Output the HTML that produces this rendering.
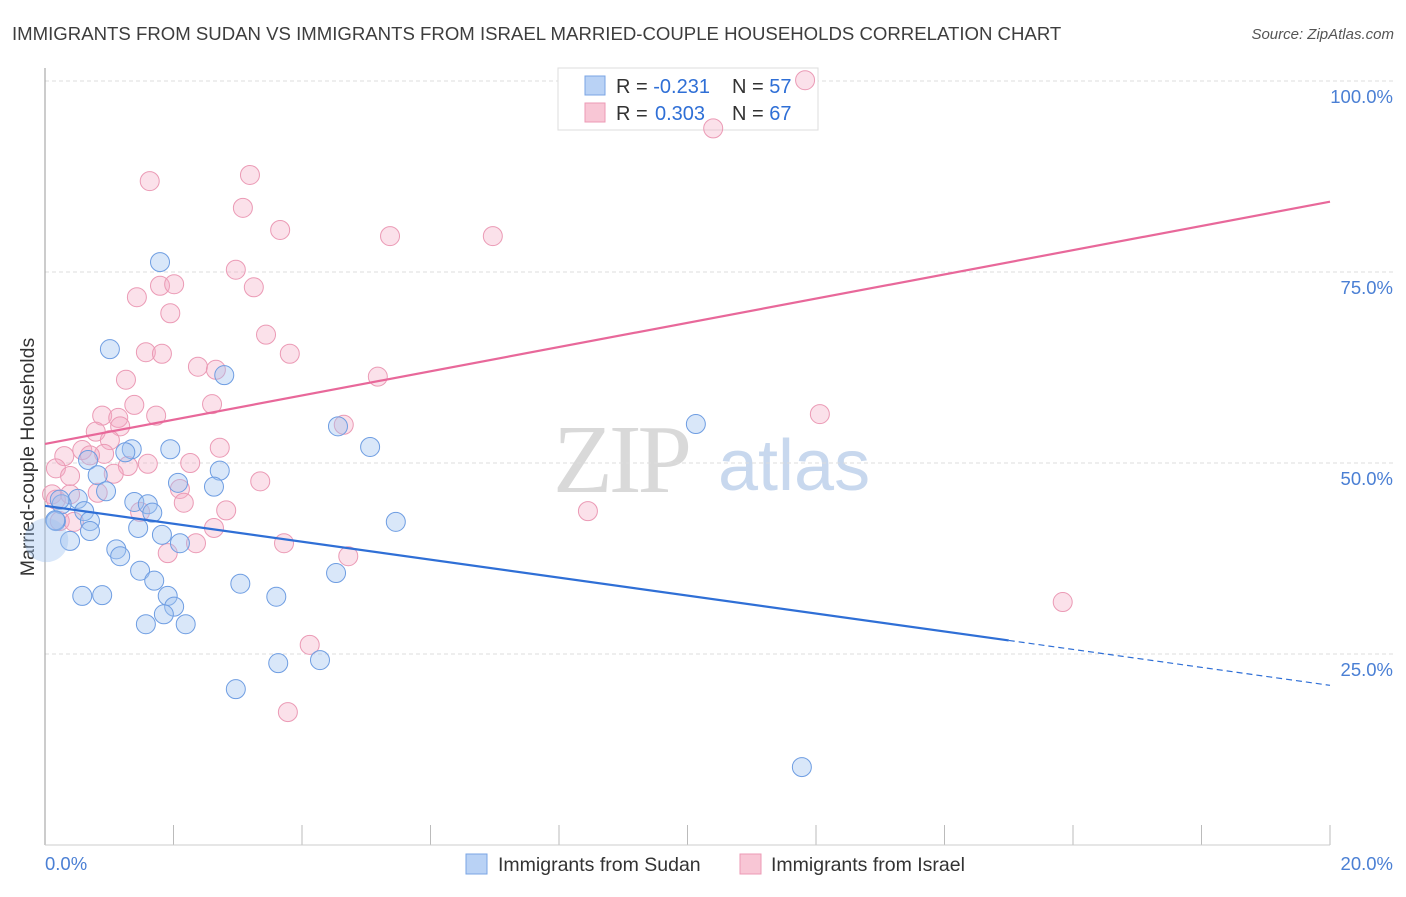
<!DOCTYPE html>
<html><head><meta charset="utf-8"><style>
body{margin:0;background:#fff;font-family:"Liberation Sans",sans-serif}
</style></head><body>
<svg width="1406" height="892" viewBox="0 0 1406 892">
<text x="12" y="40" font-size="18.6" fill="#3d3d3d">IMMIGRANTS FROM SUDAN VS IMMIGRANTS FROM ISRAEL MARRIED-COUPLE HOUSEHOLDS CORRELATION CHART</text>
<text x="1394" y="39" font-size="15" fill="#555" font-style="italic" text-anchor="end">Source: ZipAtlas.com</text>
<g>
<text x="553" y="492" font-size="98" fill="#d9d9d9" font-family="Liberation Serif,serif" letter-spacing="-4">ZIP</text>
<text x="718" y="490" font-size="72" fill="#c8d8ee">atlas</text>
</g>
<g id="grid"></g>
<line x1="45" y1="68" x2="45" y2="845" stroke="#999"/>
<line x1="45" y1="845" x2="1330" y2="845" stroke="#ccc"/>
<text transform="translate(34,457) rotate(-90)" font-size="19.5" fill="#333" text-anchor="middle">Married-couple Households</text>
<text x="45" y="870" font-size="18.5" fill="#4a7fd4">0.0%</text>
<text x="1393" y="870" font-size="18.5" fill="#4a7fd4" text-anchor="end">20.0%</text>
<g>
<rect x="558" y="68" width="260" height="62" fill="#fff" stroke="#ddd"/>
<rect x="585" y="76" width="20" height="19" fill="#b9d2f5" stroke="#7aa4e4"/>
<rect x="585" y="103" width="20" height="19" fill="#f8c6d5" stroke="#ec9ab5"/>
<text x="616" y="93" font-size="20" fill="#333">R = <tspan fill="#2f6fd6">-0.231</tspan><tspan x="732">N = </tspan><tspan fill="#2f6fd6">57</tspan></text>
<text x="616" y="120" font-size="20" fill="#333">R = <tspan fill="#2f6fd6" x="655">0.303</tspan><tspan x="732">N = </tspan><tspan fill="#2f6fd6">67</tspan></text>
</g>
<g id="pts"></g>
<g id="lines"></g>
<g>
<rect x="466" y="854" width="21" height="20" fill="#b9d2f5" stroke="#7aa4e4"/>
<text x="498" y="871" font-size="19.5" fill="#333">Immigrants from Sudan</text>
<rect x="740" y="854" width="21" height="20" fill="#f8c6d5" stroke="#ec9ab5"/>
<text x="771" y="871" font-size="19.5" fill="#333">Immigrants from Israel</text>
</g>
</svg>
<script>
const yTicks=[25,50,75,100];
const yTickLabels=["25.0%","50.0%","75.0%","100.0%"];
const xTicks=[2,4,6,8,10,12,14,16,18,20];
const sudanX=[1.79,1.01,2.79,10.13,4.56,5.06,1.95,1.35,1.25,0.67,0.82,2.72,2.07,2.63,0.95,0.51,1.39,1.60,0.26,0.61,1.67,0.70,0.17,5.46,1.45,1.82,0.70,0.39,2.10,1.11,1.17,1.48,4.53,1.70,3.04,0.58,0.89,1.91,3.60,2.01,1.85,1.57,2.19,3.63,4.28,2.97,11.78,0.16,0.23];
const sudanY=[76.3,64.9,61.5,55.1,54.8,52.1,51.8,51.8,51.4,50.4,48.4,49.0,47.4,46.9,46.3,45.3,44.9,44.6,44.6,43.7,43.5,42.4,42.4,42.3,41.5,40.6,41.1,39.8,39.5,38.7,37.8,35.9,35.6,34.6,34.2,32.6,32.7,32.6,32.5,31.2,30.2,28.9,28.9,23.8,24.2,20.4,10.2,42.5,45.2];
const israelX=[11.83,10.40,1.63,3.19,3.08,3.66,5.37,6.97,2.97,1.43,1.79,2.01,3.25,1.95,3.44,1.57,1.82,3.81,2.38,2.66,1.26,5.18,2.60,0.89,1.14,1.73,1.39,12.06,4.65,1.17,0.79,1.01,2.72,0.30,0.58,1.60,0.92,0.70,1.29,2.26,0.17,0.39,1.07,3.35,2.10,0.82,0.11,2.16,2.82,8.45,0.23,0.45,2.63,3.72,2.35,1.91,4.72,15.84,4.12,3.78,0.17,0.39,1.48];
const israelY=[100.1,93.8,86.9,87.7,83.4,80.5,79.7,79.7,75.3,71.7,73.2,73.4,73.0,69.6,66.8,64.5,64.3,64.3,62.6,62.2,60.9,61.3,57.7,56.2,55.9,56.2,57.6,56.4,55.0,54.8,54.1,53.0,52.0,50.9,51.7,49.9,51.2,51.0,49.6,50.0,49.3,48.3,48.6,47.6,46.6,46.1,45.9,44.8,43.8,43.7,42.4,42.3,41.5,39.5,39.5,38.2,37.8,31.8,26.2,17.4,45.2,45.9,43.6];
const sudanTrend=[44.4,20.9];
const israelTrend=[52.5,84.2];
const sudanSolidEnd=15.0;
const NS="http://www.w3.org/2000/svg";
const sx=v=>45+v*64.25, sy=v=>463-(v-50)*7.64;
function mk(tag,attrs,parent){const e=document.createElementNS(NS,tag);for(const k in attrs)e.setAttribute(k,attrs[k]);parent.appendChild(e);return e;}
const grid=document.getElementById('grid');
yTicks.forEach((t,i)=>{
 const l=mk('line',{x1:45,x2:1393,y1:sy(t),y2:sy(t),stroke:'#ddd','stroke-dasharray':'4,3'},grid);
 
 
 const tx=mk('text',{x:1393,y:sy(t)+22,'font-size':18.5,fill:'#4a7fd4','text-anchor':'end'},grid);
 tx.textContent=yTickLabels[i];
 
 
});
xTicks.forEach(t=>{
 const l=mk('line',{x1:sx(t),x2:sx(t),y1:825,y2:845,stroke:'#bbb'},grid);
 
 
});
const pts=document.getElementById('pts');
israelX.forEach((x,i)=>{
 const c=mk('circle',{cx:sx(x),cy:sy(israelY[i]),r:9.5,fill:'rgba(244,168,194,0.35)',stroke:'#eb9ab5','stroke-width':1},pts);
 
 
});
sudanX.forEach((x,i)=>{
 const c=mk('circle',{cx:sx(x),cy:sy(sudanY[i]),r:9.5,fill:'rgba(160,196,240,0.4)',stroke:'#6e9de2','stroke-width':1},pts);
 
 
});
const big=mk('circle',{cx:sx(0.02),cy:sy(39.9),r:22,fill:'rgba(160,196,240,0.4)',stroke:'none'},pts);


const lines=document.getElementById('lines');
const ty=(tr,x)=>tr[0]+(tr[1]-tr[0])*x/20;
const pl=mk('line',{x1:sx(0),y1:sy(israelTrend[0]),x2:sx(20),y2:sy(israelTrend[1]),stroke:'#e8689a','stroke-width':2.2},lines);


const bl=mk('line',{x1:sx(0),y1:sy(sudanTrend[0]),x2:sx(sudanSolidEnd),y2:sy(ty(sudanTrend,sudanSolidEnd)),stroke:'#2f6fd6','stroke-width':2.2},lines);


const bd=mk('line',{x1:sx(sudanSolidEnd),y1:sy(ty(sudanTrend,sudanSolidEnd)),x2:sx(20),y2:sy(sudanTrend[1]),stroke:'#2f6fd6','stroke-width':1.2,'stroke-dasharray':'6,4'},lines);


</script>
</body></html>
